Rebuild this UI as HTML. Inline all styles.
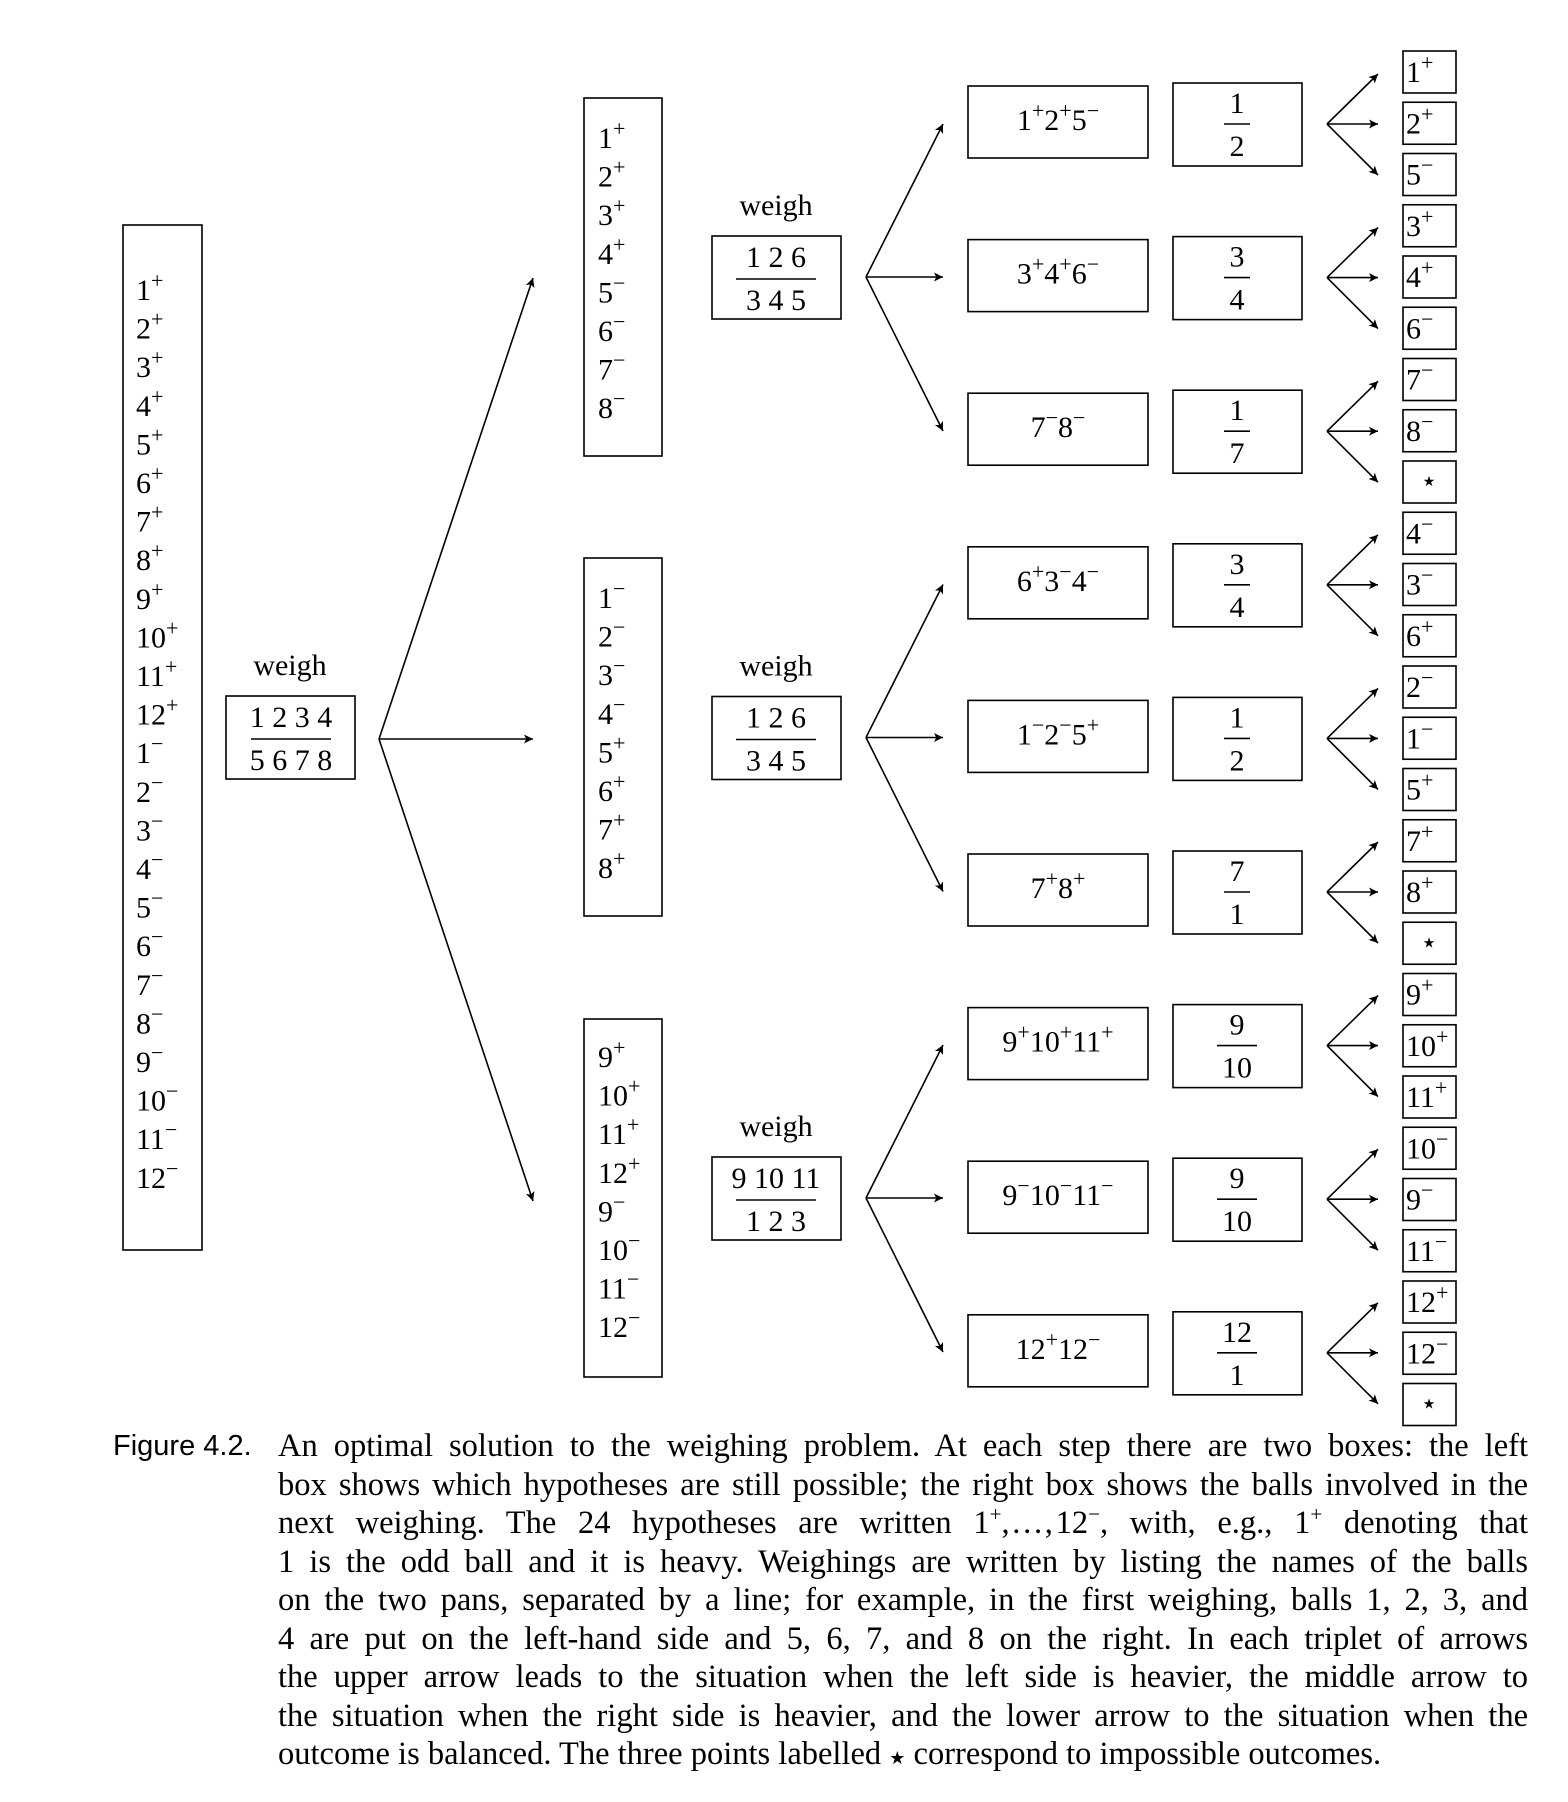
<!DOCTYPE html>
<html><head><meta charset="utf-8"><style>
html,body{margin:0;padding:0;background:#fff;}
#wrap{position:relative;width:1568px;height:1802px;overflow:hidden;}
svg{position:absolute;left:0;top:0;}
svg text{font-family:"Liberation Serif",serif;font-size:30px;fill:#000;}
#cap{position:absolute;left:278px;top:1427px;width:1250px;font-family:"Liberation Serif",serif;font-size:32.5px;line-height:38.5px;color:#000;}
#cap div{text-align:justify;text-align-last:justify;white-space:nowrap;height:38.5px;}
#cap div.last{text-align-last:left;}
#fig{position:absolute;left:-165px;top:0;font-family:"Liberation Sans",sans-serif;font-size:29px;white-space:nowrap;}
sup{font-size:21px;line-height:0;}
.st{font-family:"DejaVu Sans",sans-serif;font-size:18px;}
</style></head><body><div id="wrap">
<svg id="s" width="1568" height="1802" viewBox="0 0 1568 1802"></svg>
<div id="cap"><span id="fig">Figure 4.2.</span>
<div>An optimal solution to the weighing problem. At each step there are two boxes: the left</div>
<div>box shows which hypotheses are still possible; the right box shows the balls involved in the</div>
<div>next weighing. The 24 hypotheses are written 1<sup>+</sup>,&#8202;.&#8202;.&#8202;.&#8202;,&#8202;12<sup>−</sup>, with, e.g., 1<sup>+</sup> denoting that</div>
<div>1 is the odd ball and it is heavy. Weighings are written by listing the names of the balls</div>
<div>on the two pans, separated by a line; for example, in the first weighing, balls 1, 2, 3, and</div>
<div>4 are put on the left-hand side and 5, 6, 7, and 8 on the right. In each triplet of arrows</div>
<div>the upper arrow leads to the situation when the left side is heavier, the middle arrow to</div>
<div>the situation when the right side is heavier, and the lower arrow to the situation when the</div>
<div class="last">outcome is balanced. The three points labelled <span class="st">★</span> correspond to impossible outcomes.</div>
</div>
</div>
<script>
var o='<defs><marker id="a" viewBox="0 0 10 10" refX="10" refY="5" markerWidth="12" markerHeight="9" markerUnits="userSpaceOnUse" orient="auto"><path d="M0,0 L10,5 L0,10 L2.5,5 z" fill="#000"/></marker></defs>';
function rect(x1,y1,x2,y2){o+='<rect x="'+x1+'" y="'+y1+'" width="'+(x2-x1)+'" height="'+(y2-y1)+'" fill="none" stroke="#000" stroke-width="1.6"/>';}
function line(x1,y1,x2,y2,arr){o+='<line x1="'+x1+'" y1="'+y1+'" x2="'+x2+'" y2="'+y2+'" stroke="#000" stroke-width="1.6"'+(arr?' marker-end="url(#a)"':'')+'/>';}
function lab(s){
  var r='',m=s.match(/(\d+|★)([+-]?)/g),up=false;
  m.forEach(function(t){var mm=t.match(/(\d+|★)([+-]?)/);r+='<tspan'+(up?' dy="12"':'')+'>'+mm[1]+'</tspan>';up=false;if(mm[2]){r+='<tspan dy="-12" style="font-size:22px">'+(mm[2]=='+'?'+':'−')+'</tspan>';up=true;}});
  return r;}
function txt(x,y,s,anchor,fs,ff){o+='<text x="'+x+'" y="'+(y+10)+'" text-anchor="'+(anchor||'middle')+'" style="'+(fs?'font-size:'+fs+'px;':'')+(ff?'font-family:'+ff+';':'')+'">'+s+'</text>';}
rect(123,225,202,1250);
var L=['1+','2+','3+','4+','5+','6+','7+','8+','9+','10+','11+','12+','1-','2-','3-','4-','5-','6-','7-','8-','9-','10-','11-','12-'];
L.forEach(function(s,i){txt(136,290+i*38.6,lab(s),'start');});
txt(290,665,'weigh');rect(226,696,355,779);txt(291,717,'1 2 3 4');line(251,739,331,739);txt(291,760,'5 6 7 8');
line(379,739,533,278,1);line(379,739,533,739,1);line(379,739,533,1201,1);
var C2=[['1+','2+','3+','4+','5-','6-','7-','8-'],['1-','2-','3-','4-','5+','6+','7+','8+'],['9+','10+','11+','12+','9-','10-','11-','12-']];
var tops=[98,558,1019],first=[138,598,1057];
var W=[['1 2 6','3 4 5'],['1 2 6','3 4 5'],['9 10 11','1 2 3']];
var G=[['1+2+5-','3+4+6-','7-8-'],['6+3-4-','1-2-5+','7+8+'],['9+10+11+','9-10-11-','12+12-']];
var F=[['1','2'],['3','4'],['1','7'],['3','4'],['1','2'],['7','1'],['9','10'],['9','10'],['12','1']];
var LV=['1+','2+','5-','3+','4+','6-','7-','8-','★','4-','3-','6+','2-','1-','5+','7+','8+','★','9+','10+','11+','10-','9-','11-','12+','12-','★'];
for(var g=0;g<3;g++){
  rect(584,tops[g],662,tops[g]+358);
  C2[g].forEach(function(s,i){txt(598,first[g]+i*38.6,lab(s),'start');});
  var wy=205+g*460.5;txt(776,wy,'weigh');
  var by=236+g*460.5;rect(712,by,841,by+83);txt(776,by+21,W[g][0]);line(736,by+43,816,by+43);txt(776,by+64,W[g][1]);
  var oy=277+g*460.5;
  line(866,oy,943,oy-153,1);line(866,oy,943,oy,1);line(866,oy,943,oy+154,1);
}
for(var k=0;k<9;k++){
  var t=86+k*153.6;txt(1058,t+34,lab(G[Math.floor(k/3)][k%3]));rect(968,t,1148,t+72);
  var f=83+k*153.6;rect(1173,f,1302,f+83);txt(1237,f+20,F[k][0]);var w=F[k][0].length>1||F[k][1].length>1?40:26;line(1237-w/2,f+41,1237+w/2,f+41);txt(1237,f+63,F[k][1]);
  var cy=124+k*153.6;line(1327,cy,1378,cy-50,1);line(1327,cy,1378,cy,1);line(1327,cy,1378,cy+51,1);
}
LV.forEach(function(s,i){var t=51+i*51.25;rect(1403,t,1456,t+42);if(s=='★')txt(1429,t+15,'★','middle',14,'DejaVu Sans');else txt(1406,t+21,lab(s),'start');});
document.getElementById('s').innerHTML=o;
</script>
</body></html>
